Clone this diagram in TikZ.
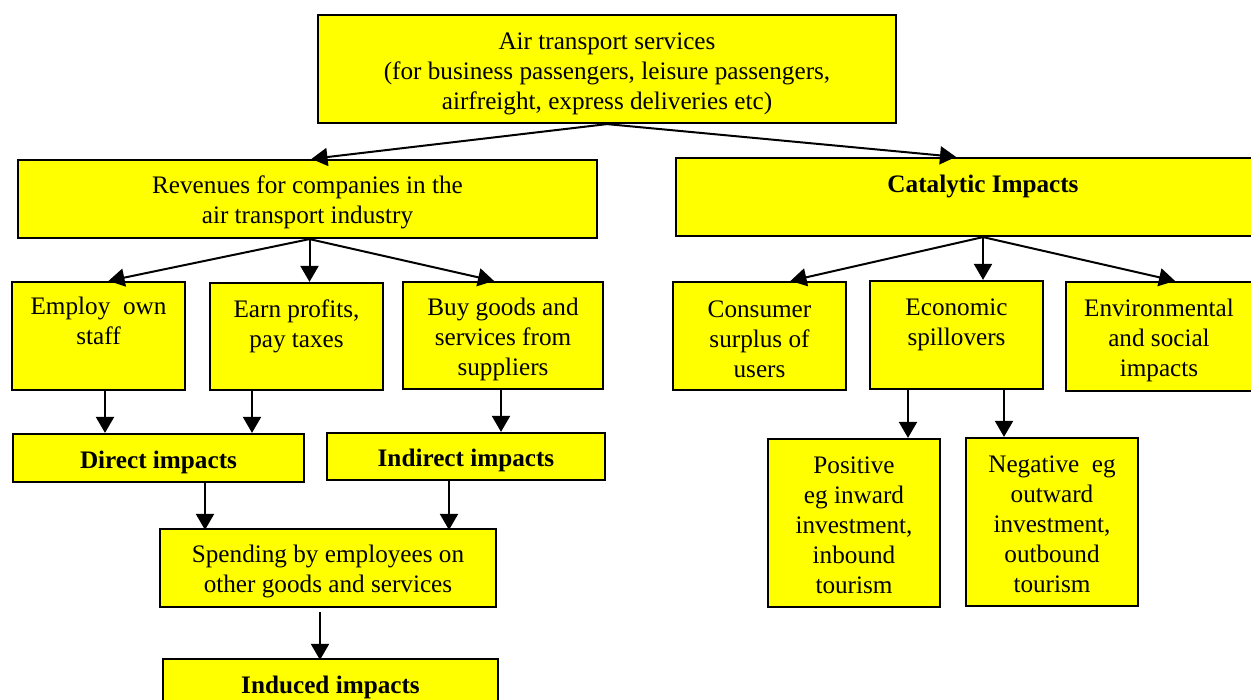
\documentclass[tikz,border=0pt]{standalone}
\usepackage{fontspec}
\setmainfont{Liberation Serif}
\usepackage{tikz}
\usetikzlibrary{arrows.meta, positioning}
\definecolor{boxyellow}{RGB}{255,255,0}
\tikzset{
    block/.style={rectangle, draw=black, line width=1.1pt, fill=boxyellow,
                  align=center, inner sep=0pt, font=\fontsize{12.6}{15}\selectfont},
    boldblock/.style={block, font=\fontsize{12.6}{15}\selectfont\bfseries,
                      execute at begin node=\rule{0pt}{12.7pt}},
    arrow/.style={-{Triangle[width=9pt,length=8pt]}, line width=1pt, color=black}
}

\begin{document}
\begin{tikzpicture}[x=0.5pt, y=-0.5pt]
    \useasboundingbox (0,0) rectangle (1251,700);

    \node[block, minimum width=289pt, minimum height=54pt] (air) at (607,69)
        {\rule{0pt}{13.6pt}Air transport services\\(for business passengers, leisure passengers,\\airfreight, express deliveries etc)};
    \node[block, minimum width=289.5pt, minimum height=39pt] (rev) at (307.5,199)
        {\rule{0pt}{12.6pt}Revenues for companies in the\\air transport industry};
    \node[boldblock, minimum width=307pt, minimum height=39pt] (cat) at (983,197)
        {Catalytic Impacts\\[-2pt]\mbox{}};

    \node[block, minimum width=86.5pt, minimum height=54pt] (staff) at (98.5,336)
        {Employ\ \ own\\staff\\\mbox{}};
    \node[block, minimum width=86.5pt, minimum height=53.5pt] (profit) at (296.5,336.5)
        {Earn profits,\\pay taxes\\[-2pt]\mbox{}};
    \node[block, minimum width=100pt, minimum height=53.5pt] (buy) at (503,335.5)
        {\rule{0pt}{12.6pt}Buy goods and\\services from\\suppliers};

    \node[block, minimum width=86.5pt, minimum height=54pt] (cons) at (759.5,336)
        {\rule{0pt}{11.4pt}Consumer\\surplus of\\users};
    \node[block, minimum width=86.5pt, minimum height=54pt] (spill) at (956.5,335)
        {Economic\\spillovers\\[-2pt]\mbox{}};
    \node[block, minimum width=93pt, minimum height=54.5pt] (env) at (1159,336.5)
        {\rule{0pt}{12.6pt}Environmental\\and social\\impacts};

    \node[boldblock, minimum width=145.5pt, minimum height=24pt] (direct) at (158.5,458)
        {Direct impacts};
    \node[boldblock, minimum width=139pt, minimum height=23.5pt] (indirect) at (466,456.5)
        {Indirect impacts};
    \node[block, minimum width=168pt, minimum height=39pt] (spend) at (328,568)
        {\rule{0pt}{12.6pt}Spending by employees on\\other goods and services};
    \node[boldblock, minimum width=167.5pt, minimum height=24pt] (induced) at (330.5,683)
        {Induced impacts};

    \node[block, minimum width=86pt, minimum height=84pt] (pos) at (854,523)
        {\rule{0pt}{10.3pt}Positive\\eg inward\\investment,\\inbound\\tourism};
    \node[block, minimum width=86pt, minimum height=84pt] (neg) at (1052,522)
        {\rule{0pt}{10.3pt}Negative\ \ eg\\outward\\investment,\\outbound\\tourism};

    % top level
    \draw[arrow] (air.south) -- ([xshift=2pt]rev.north);
    \draw[arrow] (air.south) -- ([xshift=-13.5pt]cat.north);

    % revenues
    \draw[arrow] ([xshift=1pt]rev.south) -- ([xshift=5pt]staff.north);
    \draw[arrow] ([xshift=1pt]rev.south) -- ([xshift=1pt]rev.south |- profit.north);
    \draw[arrow] ([xshift=1pt]rev.south) -- ([xshift=-4.5pt]buy.north);

    % catalytic
    \draw[arrow] (cat.south) -- ([xshift=15.5pt]cons.north);
    \draw[arrow] (cat.south) -- (cat.south |- spill.north);
    \draw[arrow] (cat.south) -- ([xshift=8pt]env.north);

    \draw[arrow] ([xshift=3.25pt]staff.south) -- ([xshift=3.25pt]staff.south |- direct.north);
    \draw[arrow] ([xshift=-22.25pt]profit.south) -- ([xshift=-22.25pt]profit.south |- direct.north);
    \draw[arrow] ([xshift=-1pt]buy.south) -- ([xshift=-1pt]buy.south |- indirect.north);
    \draw[arrow] ([xshift=23.25pt]direct.south) -- ([xshift=23.25pt,yshift=-1pt]direct.south |- spend.north);
    \draw[arrow] ([xshift=-8.5pt]indirect.south) -- ([xshift=-8.5pt,yshift=-1pt]indirect.south |- spend.north);
    \draw[arrow] ([xshift=-4pt,yshift=-2pt]spend.south) -- ([xshift=-4pt,yshift=-1pt]spend.south |- induced.north);

    \draw[arrow] ([xshift=-24.25pt]spill.south) -- ([xshift=-24.25pt]spill.south |- pos.north);
    \draw[arrow] ([xshift=23.75pt]spill.south) -- ([xshift=23.75pt]spill.south |- neg.north);
\end{tikzpicture}
\end{document}
